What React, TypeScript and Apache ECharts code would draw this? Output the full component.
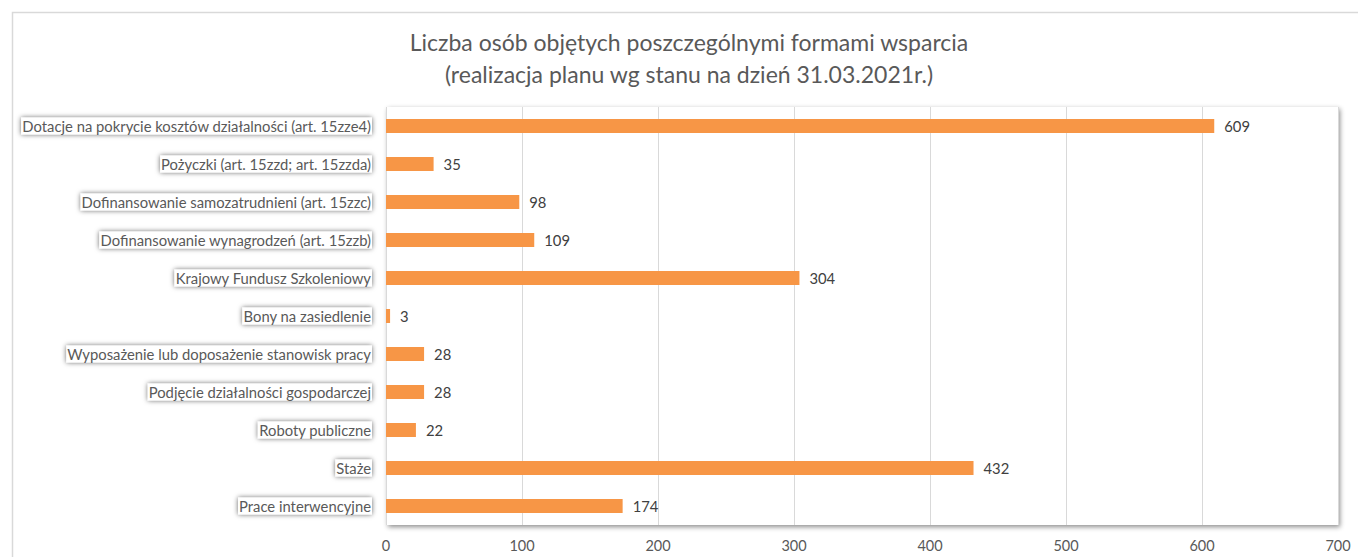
import React, { useEffect, useRef } from "react";
import * as echarts from "echarts";

const categories = [
  "Dotacje na pokrycie kosztów działalności (art. 15zze4)",
  "Pożyczki (art. 15zzd; art. 15zzda)",
  "Dofinansowanie samozatrudnieni (art. 15zzc)",
  "Dofinansowanie wynagrodzeń (art. 15zzb)",
  "Krajowy Fundusz Szkoleniowy",
  "Bony na zasiedlenie",
  "Wyposażenie lub doposażenie stanowisk pracy",
  "Podjęcie działalności gospodarczej",
  "Roboty publiczne",
  "Staże",
  "Prace interwencyjne",
];
const values = [609, 35, 98, 109, 304, 3, 28, 28, 22, 432, 174];
const titleLines = [
  "Liczba osób objętych poszczególnymi formami wsparcia",
  "(realizacja planu wg stanu na dzień 31.03.2021r.)",
];

const FONT = "Lato, 'Liberation Sans', sans-serif";

export default function App() {
  const ref = useRef<HTMLDivElement>(null);
  useEffect(() => {
    document.body.style.margin = "0";
    if (!ref.current) return;
    const chart = echarts.init(ref.current, undefined, { renderer: "svg" });
    chart.setOption({
      animation: false,
      backgroundColor: "#ffffff",
      textStyle: { fontFamily: FONT },
      graphic: [
        {
          type: "rect",
          left: 10,
          top: 10,
          shape: { width: 1400, height: 600 },
          style: { fill: "none", stroke: "#d9d9d9", lineWidth: 1.5 },
          z: -10,
        },
        {
          type: "text",
          x: 689,
          y: 42,
          style: {
            text: titleLines[0],
            fill: "#595959",
            font: `23px ${FONT}`,
            align: "center",
            verticalAlign: "middle",
          },
        },
        {
          type: "text",
          x: 689,
          y: 74,
          style: {
            text: titleLines[1],
            fill: "#595959",
            font: `23px ${FONT}`,
            align: "center",
            verticalAlign: "middle",
          },
        },
      ],
      grid: {
        left: 386,
        right: 20,
        top: 107,
        bottom: 32,
        show: true,
        backgroundColor: "#ffffff",
        borderWidth: 0,
        shadowBlur: 5,
        shadowColor: "rgba(0,0,0,0.45)",
        shadowOffsetX: 2,
        shadowOffsetY: 2,
      },
      xAxis: {
        type: "value",
        min: 0,
        max: 700,
        interval: 100,
        axisLine: { show: false },
        axisTick: { show: false },
        splitLine: { lineStyle: { color: "#d9d9d9", width: 1 } },
        axisLabel: { color: "#595959", fontSize: 14.5, margin: 13, fontFamily: FONT },
      },
      yAxis: {
        type: "category",
        data: categories,
        inverse: true,
        axisLine: { show: false },
        axisTick: { show: false },
        axisLabel: {
          color: "#595959",
          fontSize: 14.8,
          fontFamily: FONT,
          margin: 14,
          backgroundColor: "#ffffff",
          padding: [1, 1, 1, 1],
          shadowBlur: 5,
          shadowColor: "rgba(0,0,0,0.6)",
          shadowOffsetX: 0,
          shadowOffsetY: 0,
        },
      },
      series: [
        {
          type: "bar",
          data: values,
          barWidth: 14,
          itemStyle: { color: "#F79646" },
          label: {
            show: true,
            position: "right",
            distance: 10,
            color: "#404040",
            fontSize: 14.8,
            fontFamily: FONT,
          },
        },
      ],
    });
    return () => chart.dispose();
  }, []);
  return <div ref={ref} style={{ width: 1358, height: 557 }} />;
}
